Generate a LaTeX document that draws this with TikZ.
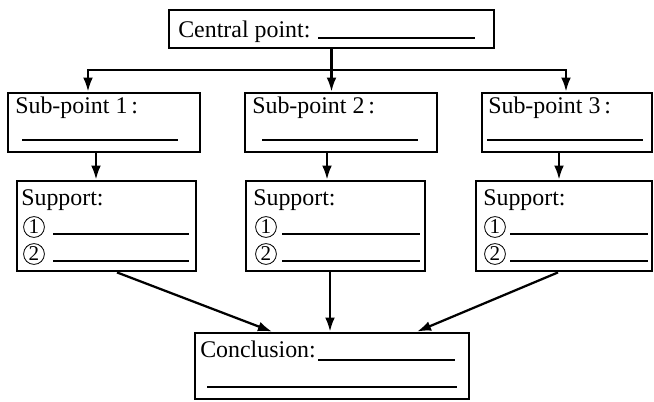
\documentclass[tikz,border=0pt]{standalone}
\usepackage{fontspec}
\setmainfont{Liberation Serif}
\usetikzlibrary{arrows.meta}

\tikzset{
    box/.style={draw, line width=2pt, inner sep=0pt},
    boxtext/.style={anchor=base west, inner sep=0pt, font=\fontsize{17}{20}\selectfont},
    circnum/.style={circle, draw, line width=0.6pt, inner sep=0pt, minimum size=5.2mm, font=\fontsize{15}{15}\selectfont},
    blank/.style={line width=1.1pt},
    conn/.style={line width=1.6pt, -{Latex[length=10pt,width=7pt]}},
}

\begin{document}
\begin{tikzpicture}[x=0.25mm, y=-0.25mm]
    \useasboundingbox (0,0) rectangle (654,401);

    % Boxes
    \node[box, minimum width=81.25mm, minimum height=9.5mm] (central) at (331.5,29) {};
    \node[box, minimum width=48mm, minimum height=14.75mm] (sub1) at (104,122.5) {};
    \node[box, minimum width=48mm, minimum height=14.75mm] (sub2) at (341,122.5) {};
    \node[box, minimum width=42.5mm, minimum height=14.75mm] (sub3) at (567,122.5) {};
    \node[box, minimum width=44.75mm, minimum height=22.5mm] (sup1) at (106.5,226) {};
    \node[box, minimum width=44.75mm, minimum height=22.5mm] (sup2) at (335.5,226) {};
    \node[box, minimum width=44mm, minimum height=22.5mm] (sup3) at (564,226) {};
    \node[box, minimum width=68.5mm, minimum height=16.5mm] (concl) at (332,366) {};

    % Texts
    \node[boxtext] (centraltxt) at (178,37) {Central point:};
    \draw[blank] (318,38) -- (475,38);

    \node[boxtext] (sub1txt) at (15,113) {Sub-point 1\,:};
    \node[boxtext] (sub2txt) at (252,113) {Sub-point 2\,:};
    \node[boxtext] (sub3txt) at (488,113) {Sub-point 3\,:};
    \draw[blank] (22,140) -- (178,140);
    \draw[blank] (262,140) -- (418,140);
    \draw[blank] (487,140) -- (643,140);

    \node[boxtext] (sup1txt) at (21,205) {Support:};
    \node[boxtext] (sup2txt) at (253,205) {Support:};
    \node[boxtext] (sup3txt) at (483,205) {Support:};
    \node[circnum] (sup1a) at (34,227) {1};
    \node[circnum] (sup1b) at (34,254) {2};
    \node[circnum] (sup2a) at (266,227) {1};
    \node[circnum] (sup2b) at (266,254) {2};
    \node[circnum] (sup3a) at (495,227) {1};
    \node[circnum] (sup3b) at (495,254) {2};
    \draw[blank] (53,234) -- (189,234);
    \draw[blank] (53,261) -- (189,261);
    \draw[blank] (282,234) -- (420,234);
    \draw[blank] (282,261) -- (420,261);
    \draw[blank] (510,234) -- (648,234);
    \draw[blank] (510,261) -- (648,261);

    \node[boxtext] (concltxt) at (200,357) {Conclusion:};
    \draw[blank] (318,360) -- (455,360);
    \draw[blank] (207,387) -- (457,387);

    % Arrows from the central point
    \coordinate (bar) at (0,70);
    \coordinate (in1) at ([shift={(-16,0)}]sub1.north);
    \coordinate (in3) at ([shift={(-1,0)}]sub3.north);
    \draw[conn] (central.south) -- (central.south |- sub2.north);
    \draw[conn] (central.south |- bar) -| (in1);
    \draw[conn] (central.south |- bar) -| (in3);

    % Sub-points to supports
    \coordinate (d1) at ([shift={(-8,0)}]sub1.south);
    \coordinate (d2) at ([shift={(-14,0)}]sub2.south);
    \coordinate (d3) at ([shift={(-8,0)}]sub3.south);
    \draw[conn] (d1) -- (d1 |- sup1.north);
    \draw[conn] (d2) -- (d2 |- sup2.north);
    \draw[conn] (d3) -- (d3 |- sup3.north);

    % Supports to conclusion
    \coordinate (e1) at ([shift={(10.5,0)}]sup1.south);
    \coordinate (e2) at ([shift={(-5.5,0)}]sup2.south);
    \coordinate (e3) at ([shift={(-6,0)}]sup3.south);
    \coordinate (f1) at ([shift={(-60,0)}]concl.north);
    \coordinate (f3) at ([shift={(85,0)}]concl.north);
    \draw[conn] (e1) -- (f1);
    \draw[conn] (e2) -- (e2 |- concl.north);
    \draw[conn] (e3) -- (f3);

\end{tikzpicture}
\end{document}
